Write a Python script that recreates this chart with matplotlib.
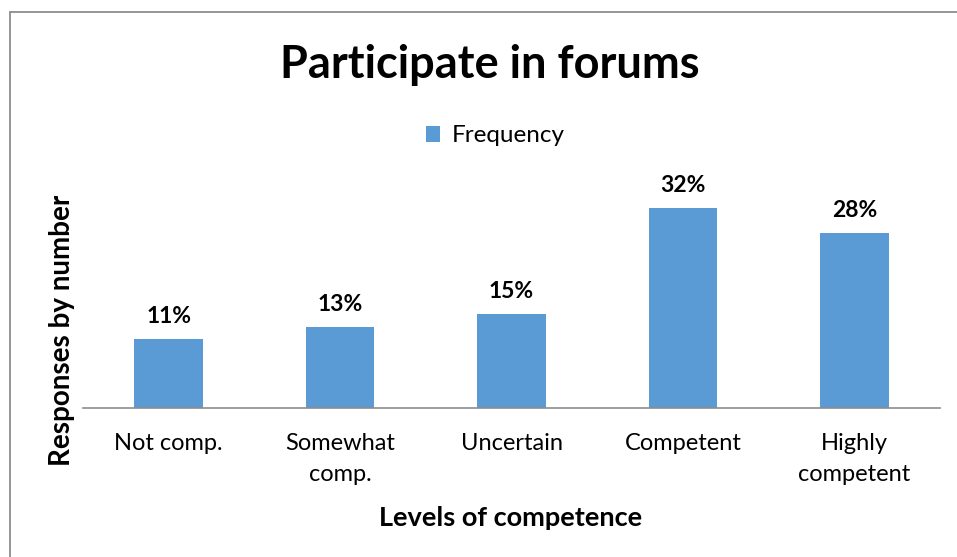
import matplotlib.pyplot as plt
from matplotlib.patches import Rectangle

plt.rcParams['font.family'] = ['Lato', 'DejaVu Sans']

# data
categories = ["Not comp.", "Somewhat\ncomp.", "Uncertain", "Competent", "Highly\ncompetent"]
values = [11, 13, 15, 32, 28]
labels = ["11%", "13%", "15%", "32%", "28%"]

W, H = 957, 557
fig = plt.figure(figsize=(W / 100, H / 100), dpi=100)

# axes placed in pixel terms
left, right, base, top = 83, 940, 408, 158
ax = fig.add_axes([left / W, (H - base) / H, (right - left) / W, (base - top) / H])

x = range(len(categories))
ax.bar(x, values, width=0.4, color="#5b9bd5", label="Frequency", zorder=2)
ax.set_xlim(-0.5, len(categories) - 0.5)
ax.set_ylim(0, 40)

for i, v in enumerate(values):
    ax.text(i, v + 1.9, labels[i], ha="center", va="bottom",
            fontsize=16.5, fontweight="bold")

ax.set_xticks(list(x))
ax.set_xticklabels(categories, fontsize=17, linespacing=1.6)
ax.tick_params(axis="x", length=0, pad=18)
ax.set_yticks([])
for s in ["top", "right", "left"]:
    ax.spines[s].set_visible(False)
ax.spines["bottom"].set_color("#8c8c8c")
ax.spines["bottom"].set_linewidth(1.2)

fig.text(490 / W, (H - 65) / H, "Participate in forums", ha="center", va="center",
         fontsize=32.5, fontweight="bold")
fig.text(511 / W, (H - 518) / H, "Levels of competence", ha="center", va="center",
         fontsize=19.5, fontweight="bold")
fig.text(62 / W, (H - 330) / H, "Responses by number", ha="center", va="center",
         rotation=90, fontsize=20, fontweight="bold")

fig.legend(loc="center", bbox_to_anchor=(495 / W, (H - 136) / H), frameon=False,
           fontsize=17.5, handlelength=0.6, handleheight=0.6, handletextpad=0.45)

# outer chart border
fig.patches.append(Rectangle((10 / W, -0.1), 1.2, (H - 12) / H + 0.1,
                             transform=fig.transFigure, fill=False,
                             edgecolor="#8c8c8c", linewidth=1.3))

fig.savefig("out.png", dpi=100)
